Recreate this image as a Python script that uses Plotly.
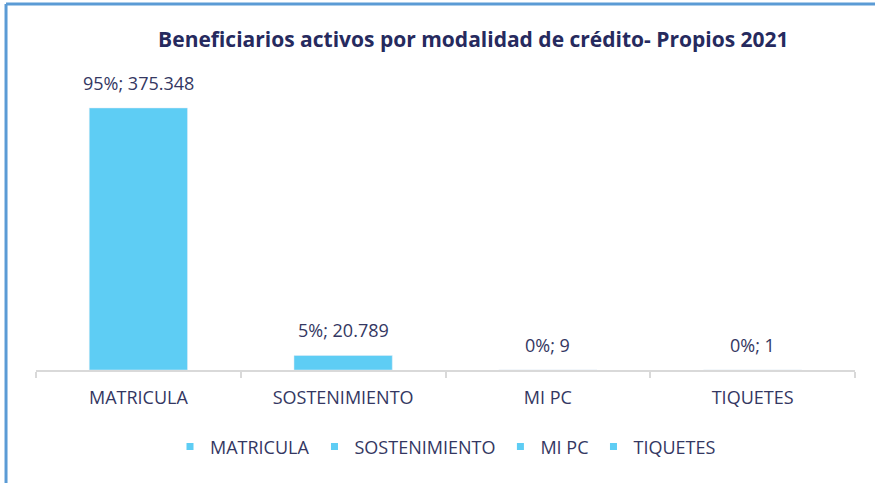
import plotly.graph_objects as go

# Datos
categorias = ["MATRICULA", "SOSTENIMIENTO", "MI PC", "TIQUETES"]
beneficiarios = [375348, 20789, 9, 1]

total = sum(beneficiarios)


def formato_es(n):
    # separador de miles con punto
    return f"{n:,}".replace(",", ".")


etiquetas = [f"{round(v / total * 100):.0f}%; {formato_es(v)}" for v in beneficiarios]

color_barra = "#5ECDF4"
color_texto = "#343762"
fuente = "Open Sans, Liberation Sans, sans-serif"

fig = go.Figure()

for cat, val in zip(categorias, beneficiarios):
    fig.add_trace(go.Bar(
        x=[cat],
        y=[val],
        name=cat,
        marker=dict(color=color_barra),
        showlegend=False,
        hoverinfo="x+y",
    ))
    # entrada de leyenda con marcador pequeño
    fig.add_trace(go.Scatter(
        x=[None], y=[None],
        mode="markers",
        name=cat,
        marker=dict(symbol="square", size=7, color=color_barra),
        showlegend=True,
    ))

# etiquetas de datos sobre las barras
for cat, val, lab in zip(categorias, beneficiarios, etiquetas):
    fig.add_annotation(
        x=cat, y=val, text=lab,
        showarrow=False,
        yanchor="bottom",
        yshift=11,
        font=dict(size=18, color=color_texto, family=fuente),
    )

fig.update_layout(
    width=875,
    height=483,
    paper_bgcolor="white",
    plot_bgcolor="white",
    barmode="overlay",
    bargap=0.52,
    margin=dict(l=36, r=20, t=60, b=113),
    title=dict(
        text="<b>Beneficiarios activos por modalidad de crédito- Propios 2021</b>",
        x=0.541, xanchor="center",
        y=0.918, yanchor="middle",
        font=dict(size=21, color="#262A5E", family=fuente),
    ),
    font=dict(family=fuente, color=color_texto, size=18),
    legend=dict(
        orientation="h",
        x=0.5, xanchor="center",
        y=-0.248, yanchor="middle",
        font=dict(size=18, color=color_texto),
        itemwidth=30,
        traceorder="normal",
    ),
    shapes=[
        dict(type="line", xref="paper", yref="paper",
             x0=-0.0366, x1=1.03, y0=1.1806, y1=1.1806,
             line=dict(color="#5B9BD5", width=3)),
        dict(type="line", xref="paper", yref="paper",
             x0=-0.0366, x1=-0.0366, y0=1.1806, y1=-0.40,
             line=dict(color="#5B9BD5", width=3)),
    ],
)

fig.update_xaxes(
    showline=True,
    linecolor="#D9D9D9",
    linewidth=2,
    ticks="outside",
    tickson="boundaries",
    ticklen=6,
    tickcolor="#D9D9D9",
    tickwidth=2,
    ticklabelstandoff=10,
    tickfont=dict(size=18, color=color_texto),
    showgrid=False,
)
fig.update_yaxes(
    visible=False,
    range=[0, 444000],
    showgrid=False,
)

fig.write_html(
    "out.html",
    config={"displayModeBar": False},
    post_script="document.body.style.margin='0';document.body.style.overflow='hidden';",
)
